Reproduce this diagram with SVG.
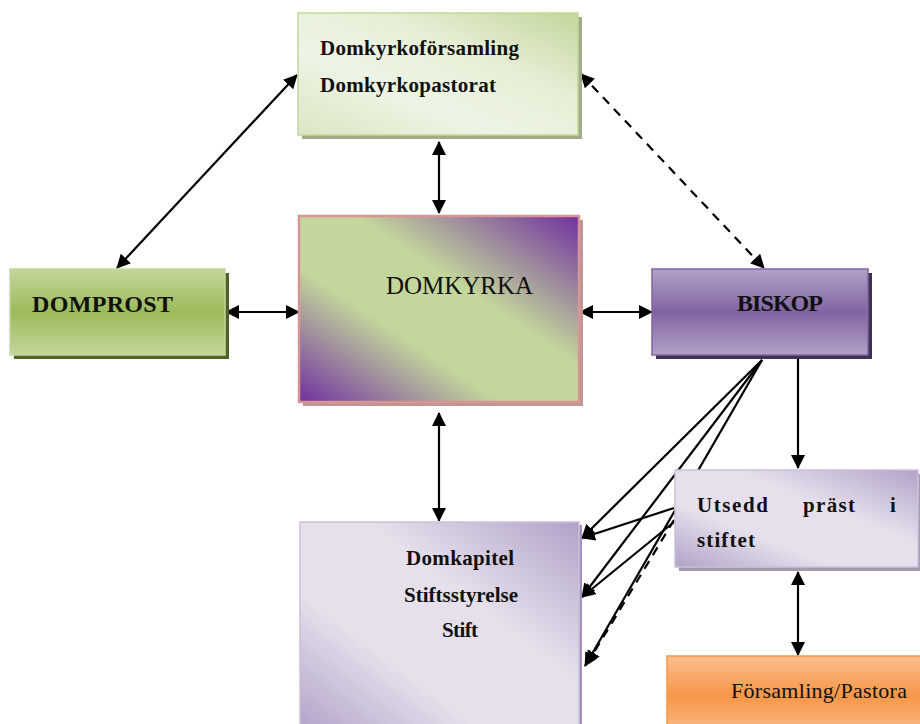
<svg xmlns="http://www.w3.org/2000/svg" width="920" height="724" viewBox="0 0 920 724">
<style>
text{font-family:'Liberation Serif','Times New Roman',Times,serif;fill:#111;}
.b{font-weight:bold;font-size:21px;}
.big{font-weight:bold;font-size:24px;}
.c{stroke:#000;stroke-width:2.2;fill:none;marker-start:url(#ah);marker-end:url(#ah);}
.one{marker-start:none;}
.d{stroke-dasharray:9,7;}
</style>
<defs>
<marker id="ah" viewBox="0 0 14 14" refX="13" refY="7" markerWidth="14" markerHeight="14" markerUnits="userSpaceOnUse" orient="auto-start-reverse">
<path d="M0,0 L14,7 L0,14 z" fill="#000"/>
</marker>
<linearGradient id="gTop" x1="0" y1="1" x2="1" y2="0">
<stop offset="0" stop-color="#dbe6c4"/>
<stop offset="0.35" stop-color="#eef4e4"/>
<stop offset="0.65" stop-color="#e6eed6"/>
<stop offset="1" stop-color="#c3d69b"/>
</linearGradient>
<linearGradient id="gGreen" x1="0" y1="0" x2="0" y2="1">
<stop offset="0" stop-color="#c3d69b"/>
<stop offset="0.5" stop-color="#9bbb59"/>
<stop offset="1" stop-color="#c3d69b"/>
</linearGradient>
<linearGradient id="gPurple" x1="0" y1="0" x2="0" y2="1">
<stop offset="0" stop-color="#b2a2c7"/>
<stop offset="0.5" stop-color="#8064a2"/>
<stop offset="1" stop-color="#b2a2c7"/>
</linearGradient>
<linearGradient id="gOrange" x1="0" y1="0" x2="0" y2="1">
<stop offset="0" stop-color="#fabf8f"/>
<stop offset="0.5" stop-color="#f79646"/>
<stop offset="1" stop-color="#fabf8f"/>
</linearGradient>
<linearGradient id="gMix" x1="0" y1="1" x2="1" y2="0">
<stop offset="0" stop-color="#7030a0"/>
<stop offset="0.36" stop-color="#c3d69b"/>
<stop offset="0.6" stop-color="#c3d69b"/>
<stop offset="1" stop-color="#7030a0"/>
</linearGradient>
<linearGradient id="gLav" x1="0" y1="1" x2="1" y2="0">
<stop offset="0" stop-color="#b2a2c7"/>
<stop offset="0.33" stop-color="#e5e0ec"/>
<stop offset="0.62" stop-color="#e5e0ec"/>
<stop offset="1" stop-color="#b2a2c7"/>
</linearGradient>
</defs>

<g id="connectors">
<line class="c" x1="117" y1="268" x2="297" y2="75"/>
<line class="c d" x1="581" y1="74" x2="764" y2="268"/>
<line class="c" x1="439" y1="142" x2="439" y2="213"/>
<line class="c" x1="226" y1="312" x2="299" y2="312"/>
<line class="c" x1="580" y1="312" x2="652" y2="312"/>
<line class="c" x1="439" y1="413" x2="439" y2="521"/>
<line class="c one" x1="798" y1="358" x2="798" y2="468"/>
<line class="c" x1="798" y1="572" x2="798" y2="655"/>
<line class="c one" x1="762" y1="360" x2="582" y2="538"/>
<line class="c one" x1="762" y1="360" x2="582" y2="597"/>
<line class="c one" x1="762" y1="360" x2="585" y2="666"/>
<line class="c one" x1="674" y1="508" x2="582" y2="538"/>
<line class="c one" x1="674" y1="522" x2="582" y2="597"/>
<line class="c one d" x1="674" y1="520" x2="587" y2="664"/>
</g>

<g id="n-top">
<rect x="302" y="17" width="280" height="122" fill="#a4aa8a"/>
<rect x="298" y="13" width="280" height="122" fill="url(#gTop)" stroke="#c3d69b" stroke-width="1.5"/>
<text class="b" font-family="Liberation Serif, serif" x="320" y="55" textLength="199" lengthAdjust="spacing">Domkyrkoförsamling</text>
<text class="b" font-family="Liberation Serif, serif" x="320" y="92" textLength="176" lengthAdjust="spacing">Domkyrkopastorat</text>
</g>

<g id="n-domprost">
<rect x="14" y="273" width="215" height="86" fill="#4f6228"/>
<rect x="10" y="269" width="215" height="86" fill="url(#gGreen)" stroke="#c3d69b" stroke-width="1.5"/>
<text class="big" font-family="Liberation Serif, serif" x="32" y="312" textLength="141" lengthAdjust="spacing">DOMPROST</text>
</g>

<g id="n-domkyrka">
<rect x="303" y="220" width="280" height="186" fill="#c09595"/>
<rect x="299" y="216" width="280" height="186" fill="url(#gMix)" stroke="#d99594" stroke-width="2.5"/>
<text font-family="Liberation Serif, serif" x="386" y="294" font-size="25" textLength="147" lengthAdjust="spacing">DOMKYRKA</text>
</g>

<g id="n-biskop">
<rect x="656" y="273" width="216" height="86" fill="#3f3151"/>
<rect x="652" y="269" width="216" height="86" fill="url(#gPurple)" stroke="#8064a2" stroke-width="1.5"/>
<text class="big" font-family="Liberation Serif, serif" x="737" y="311" textLength="86" lengthAdjust="spacing">BISKOP</text>
</g>

<g id="n-utsedd">
<rect x="679" y="474" width="243" height="97" fill="#a49cae"/>
<rect x="675" y="470" width="243" height="97" fill="url(#gLav)" stroke="#ccc0da" stroke-width="1.5"/>
<text class="b" font-family="Liberation Serif, serif" x="697" y="512" textLength="71" lengthAdjust="spacing">Utsedd</text>
<text class="b" font-family="Liberation Serif, serif" x="803" y="512" textLength="52" lengthAdjust="spacing">präst</text>
<text class="b" font-family="Liberation Serif, serif" x="890" y="512">i</text>
<text class="b" font-family="Liberation Serif, serif" x="697" y="547" textLength="58" lengthAdjust="spacing">stiftet</text>
</g>

<g id="n-domkapitel">
<rect x="303" y="525" width="279" height="210" fill="#a491be"/>
<rect x="300" y="522" width="279" height="210" fill="url(#gLav)" stroke="#ccc0da" stroke-width="1.5"/>
<text class="b" font-family="Liberation Serif, serif" x="406" y="565" textLength="108" lengthAdjust="spacing">Domkapitel</text>
<text class="b" font-family="Liberation Serif, serif" x="404" y="602" textLength="114" lengthAdjust="spacing">Stiftsstyrelse</text>
<text class="b" font-family="Liberation Serif, serif" x="442" y="637" textLength="36" lengthAdjust="spacing">Stift</text>
</g>

<g id="n-forsamling">
<rect x="667" y="656" width="260" height="80" fill="url(#gOrange)" stroke="#f79646" stroke-width="1.5"/>
<text font-family="Liberation Serif, serif" x="731" y="698" font-size="22" textLength="176" lengthAdjust="spacing">Församling/Pastora</text>
</g>
</svg>
